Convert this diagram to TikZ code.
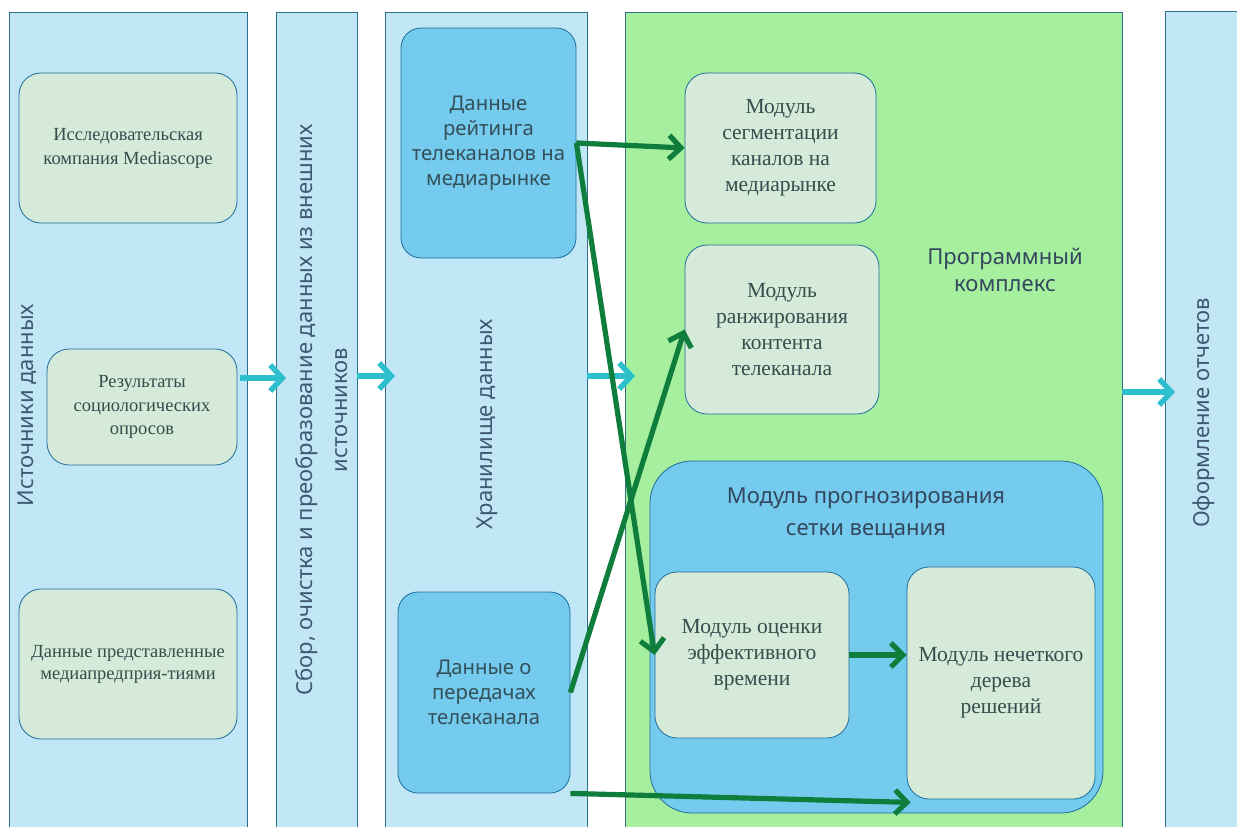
\documentclass[tikz,border=0pt]{standalone}
\usepackage{fontspec}
\setmainfont{Liberation Serif}
\newfontfamily\sansf{Noto Sans}
\usetikzlibrary{arrows.meta}
\definecolor{panelblue}{HTML}{C1E6F5}
\definecolor{panelgreen}{HTML}{A5EF9F}
\definecolor{panelborder}{HTML}{2F6F8E}
\definecolor{nodegreen}{HTML}{D5EAD8}
\definecolor{nodeblue}{HTML}{74CBEE}
\definecolor{nodeborder}{HTML}{1E6C9C}
\definecolor{flowcyan}{HTML}{2DBFCB}
\definecolor{linkgreen}{HTML}{0F7D3C}
\definecolor{serifink}{HTML}{344E4E}
\definecolor{sansink}{HTML}{34505A}
\definecolor{headink}{HTML}{34475F}
\definecolor{labelink}{HTML}{3E5970}
\tikzset{
  panel/.style={draw=panelborder, line width=0.8pt, anchor=north west, inner sep=0pt, minimum height=840},
  gbox/.style={draw=nodeborder, line width=0.8pt, fill=nodegreen, rounded corners=22pt, align=center,
    inner sep=0pt, text=serifink, font=\fontsize{21.5}{26}\selectfont},
  srcbox/.style={gbox, font=\fontsize{18.5}{24}\selectfont},
  bbox/.style={draw=nodeborder, line width=0.8pt, fill=nodeblue, rounded corners=20pt, align=center,
    inner sep=0pt, text=sansink, font=\sansf\fontsize{20.3}{25}\selectfont},
  collabel/.style={rotate=90, align=center, text=labelink, font=\sansf\fontsize{22}{35}\selectfont},
  flow/.style={draw=flowcyan, line width=5.5pt, shorten >=-10pt,
    -{Straight Barb[length=12pt, width=26pt, line width=5.5pt]}},
  link/.style={draw=linkgreen, line width=5.2pt,
    -{Straight Barb[length=12pt, width=24pt, line width=5.2pt]}},
}
\begin{document}
\begin{tikzpicture}[x=1pt, y=-1pt]
\useasboundingbox (0,0) rectangle (1237,827);
\clip (0,0) rectangle (1237,827);
\fill[white] (0,0) rectangle (1237,827);

% vertical stage panels
\node[panel, fill=panelblue, minimum width=238] (col1) at (9,12) {};
\node[panel, fill=panelblue, minimum width=81] (col2) at (276,12) {};
\node[panel, fill=panelblue, minimum width=202] (col3) at (385,12) {};
\node[panel, fill=panelgreen, minimum width=497] (col4) at (625,12) {};
\node[panel, fill=panelblue, minimum width=120] (col5) at (1165,11) {};

% panel captions
\node[collabel] (lab1) at (27,405) {Источники данных};
\node[collabel] (lab2) at (322,410) {Сбор, очистка и преобразование данных из внешних\\источников};
\node[collabel] (lab3) at (487,424) {Хранилище данных};
\node[collabel] (lab5) at (1204,413) {Оформление отчетов};

% data sources
\node[srcbox, minimum width=218, minimum height=150] (med) at (128,148)
  {Исследовательская\\компания Mediascope};
\node[srcbox, minimum width=190, minimum height=116, font=\fontsize{18.5}{23.5}\selectfont] (res) at (142,407)
  {Результаты\\социологических\\опросов};
\node[srcbox, minimum width=218, minimum height=150, font=\fontsize{18.5}{22}\selectfont] (ent) at (128,664)
  {Данные представленные\\медиапредприя-тиями};

% data storage
\node[bbox, minimum width=175, minimum height=230] (rat) at (488.5,143)
  {Данные\\рейтинга\\телеканалов на\\медиарынке};
\node[bbox, minimum width=172, minimum height=201] (prog) at (484,692.5)
  {Данные о\\передачах\\телеканала};

% software complex
\node[align=center, text=headink, font=\sansf\fontsize{22}{27}\selectfont] (cplx) at (1005,270)
  {Программный\\комплекс};
\node[gbox, minimum width=191, minimum height=150] (seg) at (780.5,148)
  {Модуль\\сегментации\\каналов на\\медиарынке};
\node[gbox, minimum width=194, minimum height=169] (rank) at (782,329.5)
  {Модуль\\ранжирования\\контента\\телеканала};
\node[draw=nodeborder, line width=0.8pt, fill=nodeblue, rounded corners=42pt,
  minimum width=453, minimum height=352, inner sep=0pt] (fcst) at (876.5,637) {};
\node[align=center, text=headink, font=\sansf\fontsize{22}{32}\selectfont] (fcstlab) at (866,513)
  {Модуль прогнозирования\\сетки вещания};
\node[gbox, minimum width=194, minimum height=166] (eff) at (752,655)
  {Модуль оценки\\эффективного\\времени};
\node[gbox, minimum width=188, minimum height=232] (tree) at (1001,683)
  {Модуль нечеткого\\дерева\\решений};

% stage-to-stage flow
\coordinate (f1) at (240,378);
\coordinate (f2) at (357,376);
\coordinate (f3) at (587,376);
\coordinate (f4) at (1122,392);
\draw[flow] (f1) -- (f1 -| col2.west);
\draw[flow] (f2) -- (f2 -| col3.west);
\draw[flow] (f3) -- (f3 -| col4.west);
\draw[flow] (f4) -- (f4 -| col5.west);

% data links between modules
\draw[link] (rat.east) -- (seg.west);
\draw[link] (rat.east) -- (eff.west);
\draw[link] (prog.east) -- (rank.west);
\draw[link] (prog.south east) -- ([xshift=4pt,yshift=-3pt]tree.south west);
\draw[link] (eff.east) -- (eff.east -| tree.west);
\end{tikzpicture}
\end{document}
